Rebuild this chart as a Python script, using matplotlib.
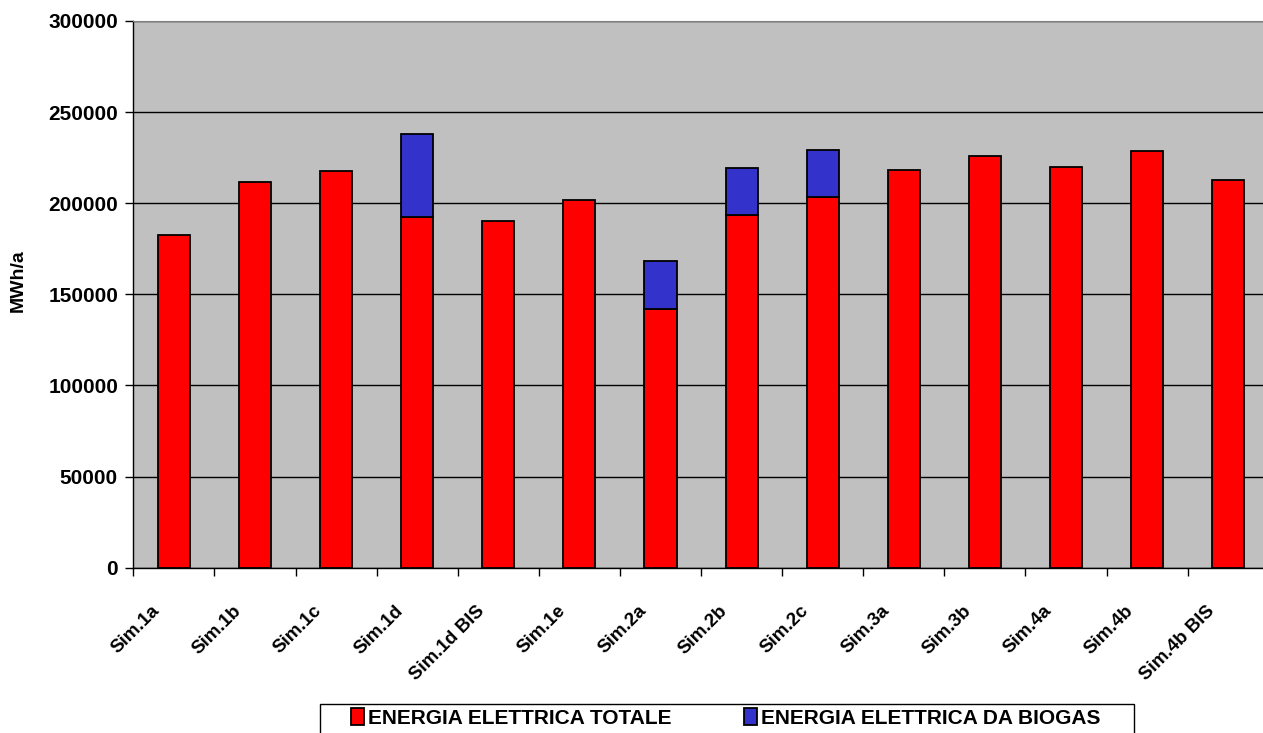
import numpy as np
import matplotlib
matplotlib.use('Agg')
import matplotlib.pyplot as plt
from matplotlib.patches import Rectangle
from matplotlib.ticker import MultipleLocator, FixedLocator

plt.rcParams['font.family'] = ['Liberation Sans', 'DejaVu Sans']
plt.rcParams['font.weight'] = 'bold'

# Data
scenari = ['Sim.1a', 'Sim.1b', 'Sim.1c', 'Sim.1d', 'Sim.1d BIS', 'Sim.1e', 'Sim.2a',
           'Sim.2b', 'Sim.2c', 'Sim.3a', 'Sim.3b', 'Sim.4a', 'Sim.4b', 'Sim.4b BIS']
energia_totale = [182600, 211500, 217700, 192300, 190300, 201800, 142000,
                  193600, 203300, 218400, 225800, 220100, 228900, 212600]
energia_biogas = [0, 0, 0, 45900, 0, 0, 26200,
                  25800, 26000, 0, 0, 0, 0, 0]

W, H = 1263, 733
fig = plt.figure(figsize=(W / 100, H / 100), dpi=100)
ax = fig.add_axes([133.3 / W, 1 - 567.7 / H, (1268.8 - 133.3) / W, (567.7 - 21) / H])
ax.set_facecolor('#C0C0C0')

x = np.arange(len(scenari))
w = 0.395
ax.bar(x, energia_totale, w, color='#FF0000', edgecolor='black', linewidth=1.3,
       label='ENERGIA ELETTRICA TOTALE', zorder=3)
mask = np.array(energia_biogas) > 0
ax.bar(x[mask], np.array(energia_biogas)[mask], w, bottom=np.array(energia_totale)[mask],
       color='#3333CC', edgecolor='black', linewidth=1.3,
       label='ENERGIA ELETTRICA DA BIOGAS', zorder=3)

ax.set_xlim(-0.5, len(scenari) - 0.5)
ax.set_ylim(0, 300000)
ax.yaxis.set_major_locator(MultipleLocator(50000))
ax.yaxis.grid(True, color='black', linewidth=1, zorder=1)
ax.set_axisbelow(True)

# labels sit a bit left of the category centre (rotated text anchored at its end)
ax.set_xticks(x - 0.28)
ax.set_xticklabels(scenari, rotation=45, ha='right', rotation_mode='anchor',
                   fontsize=13.5, fontweight='bold')
ax.xaxis.set_minor_locator(FixedLocator(np.arange(-0.5, len(scenari), 1.0)))
ax.tick_params(axis='x', which='major', length=0, pad=25)
ax.tick_params(axis='x', which='minor', length=6, width=1, direction='out', color='black')
ax.tick_params(axis='y', length=6, width=1, direction='out', labelsize=15, pad=5)
for lab in ax.get_yticklabels():
    lab.set_fontweight('bold')

ax.spines['top'].set_color('#808080')
ax.spines['right'].set_visible(False)
ax.spines['left'].set_linewidth(1)
ax.spines['bottom'].set_linewidth(1)

fig.text(18 / W, 1 - 281 / H, 'MWh/a', rotation=90, ha='center', va='center',
         fontsize=14, fontweight='bold')

# legend frame drawn separately so the padding matches the original box
fig.patches.append(Rectangle((320 / W, -0.01), (1134 - 320) / W, 0.01 + 29 / H,
                             transform=fig.transFigure, facecolor='white',
                             edgecolor='black', linewidth=1, zorder=0))
leg = fig.legend(loc='upper left', bbox_to_anchor=(347 / W, 1 - 704 / H),
                 ncol=2, fontsize=15, frameon=False, columnspacing=3.5,
                 handlelength=0.6, handleheight=0.85,
                 handletextpad=0.2, borderpad=0.2, borderaxespad=0)
for t in leg.get_texts():
    t.set_fontweight('bold')

fig.savefig('out.png', dpi=100)
